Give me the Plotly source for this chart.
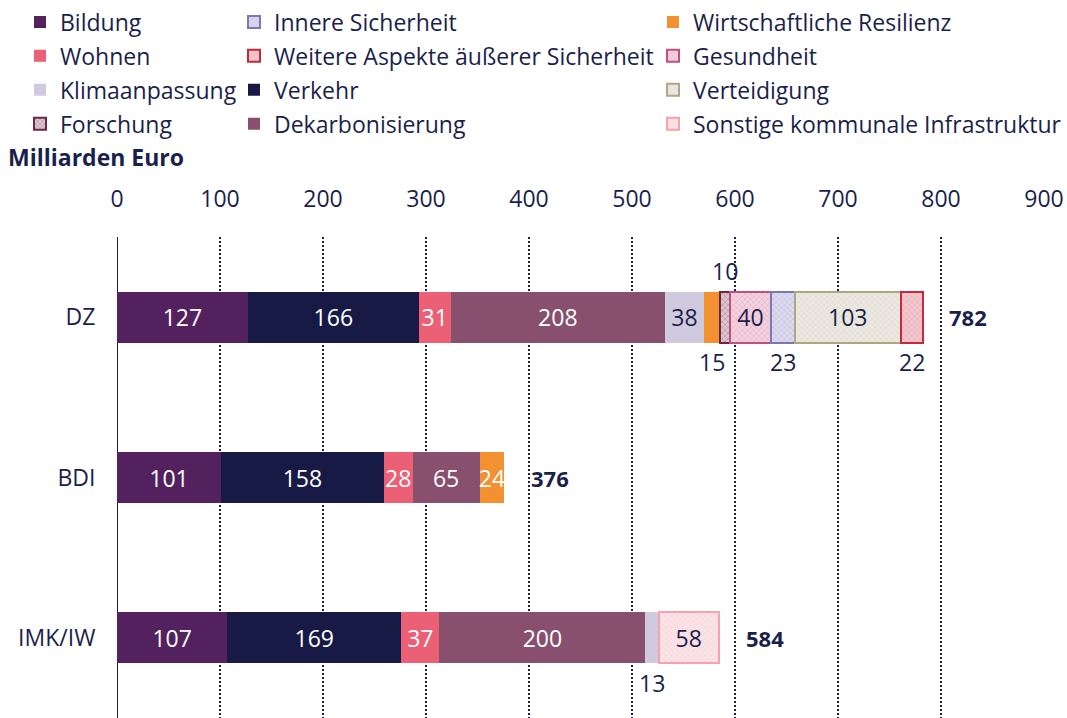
import plotly.graph_objects as go

categories = ["DZ", "BDI", "IMK/IW"]

series_names = [
    "Bildung", "Verkehr", "Wohnen", "Dekarbonisierung", "Klimaanpassung",
    "Wirtschaftliche Resilienz", "Forschung", "Gesundheit", "Innere Sicherheit",
    "Verteidigung", "Weitere Aspekte äußerer Sicherheit",
    "Sonstige kommunale Infrastruktur",
]

bildung = [127, 101, 107]
verkehr = [166, 158, 169]
wohnen = [31, 28, 37]
dekarbonisierung = [208, 65, 200]
klimaanpassung = [38, None, 13]
wirtschaft = [15, 24, None]
forschung = [10, None, None]
gesundheit = [40, None, None]
innere = [23, None, None]
verteidigung = [103, None, None]
weitere = [22, None, None]
sonstige = [None, None, 58]

totals = [782, 376, 584]
x_ticks = [0, 100, 200, 300, 400, 500, 600, 700, 800, 900]

values = [bildung, verkehr, wohnen, dekarbonisierung, klimaanpassung, wirtschaft,
          forschung, gesundheit, innere, verteidigung, weitere, sonstige]

# labels shown outside the bar: (series index, category index, position)
outside_labels = [
    (6, 0, "above"), (5, 0, "below"), (8, 0, "below"), (10, 0, "below"), (4, 2, "below"),
]

NAVY = "#1b1f4b"
FONT = "Open Sans"
FS = 23

styles = [
    dict(color="#52215e", text="white"),
    dict(color="#161a45", text="white"),
    dict(color="#ec6076", text="white"),
    dict(color="#88506e", text="white"),
    dict(color="#cfcadd", text=NAVY),
    dict(color="#f39130", text="white"),
    dict(color="#d9c6ce", line="#6b2744", fg="#8a5a70", text=NAVY),
    dict(color="#f3d3e0", line="#c0507c", fg="#d88aa8", text=NAVY),
    dict(color="#dcdaee", line="#7d78b0", fg="#a8a4cc", text=NAVY),
    dict(color="#ece9e2", line="#b3a583", fg="#cfc8b8", text=NAVY),
    dict(color="#f2c8cf", line="#c52a3a", fg="#dc8a96", text=NAVY),
    dict(color="#fbe4e8", line="#f5a3ad", fg="#f2c0c8", text=NAVY),
]

# legend columns: legend id and rank within column
legend_assign = {
    "Bildung": ("legend", 1), "Wohnen": ("legend", 2), "Klimaanpassung": ("legend", 3),
    "Forschung": ("legend", 4),
    "Innere Sicherheit": ("legend2", 1), "Weitere Aspekte äußerer Sicherheit": ("legend2", 2),
    "Verkehr": ("legend2", 3), "Dekarbonisierung": ("legend2", 4),
    "Wirtschaftliche Resilienz": ("legend3", 1), "Gesundheit": ("legend3", 2),
    "Verteidigung": ("legend3", 3), "Sonstige kommunale Infrastruktur": ("legend3", 4),
}

outside_set = {(s, c) for s, c, _ in outside_labels}

fig = go.Figure()
for i, (name, vals) in enumerate(zip(series_names, values)):
    st = styles[i]
    texts = []
    for c, v in enumerate(vals):
        if v is None or (i, c) in outside_set:
            texts.append("")
        else:
            texts.append(str(v))
    marker = dict(color=st["color"])
    if "line" in st:
        marker["line"] = dict(color=st["line"], width=2)
        marker["pattern"] = dict(shape="x", fgcolor=st["fg"], bgcolor=st["color"],
                                 size=4, solidity=0.15, fillmode="replace")
    else:
        marker["line"] = dict(width=0)
    lg, rank = legend_assign[name]
    fig.add_trace(go.Bar(
        name=name, y=categories, x=vals, orientation="h",
        marker=marker, text=texts, textposition="inside",
        insidetextanchor="middle", textangle=0,
        insidetextfont=dict(color=st["text"], family=FONT, size=FS),
        width=0.32, legend=lg, legendrank=rank, legendgroup=name,
        hoverinfo="skip",
    ))

W, H = 1067, 718
ml, mt = 117, 237
mr = W - 1044
mb = 0
pw, ph = W - ml - mr, H - mt - mb

def px_x(px):
    return (px - ml) / pw

def px_y(py):
    return 1 + (mt - py) / ph

annotations = []
for s, c, pos in outside_labels:
    start = sum((values[k][c] or 0) for k in range(s))
    mid = start + values[s][c] / 2
    annotations.append(dict(
        x=mid, y=categories[c], xref="x", yref="y", text=str(values[s][c]),
        showarrow=False, font=dict(family=FONT, size=FS, color=NAVY),
        yshift=46 if pos == "above" else -45,
    ))
for c, t in enumerate(totals):
    annotations.append(dict(
        x=t, y=categories[c], xref="x", yref="y", text=f"<b>{t}</b>",
        showarrow=False, xanchor="left", xshift=25,
        font=dict(family=FONT, size=22, color=NAVY),
    ))
annotations.append(dict(
    x=px_x(6), y=px_y(157), xref="paper", yref="paper", text="<b>Milliarden Euro</b>",
    showarrow=False, xanchor="left", yanchor="middle",
    font=dict(family=FONT, size=23, color=NAVY),
))

legend_common = dict(
    orientation="v", traceorder="grouped", tracegroupgap=1,
    font=dict(family=FONT, size=FS, color=NAVY),
    bgcolor="rgba(0,0,0,0)", borderwidth=0,
    xanchor="left", yanchor="top", itemclick=False,
)

LEG_TOP = 0.5
fig.update_layout(
    width=W, height=H,
    margin=dict(l=ml, r=mr, t=mt, b=mb, pad=0, autoexpand=False),
    barmode="stack",
    paper_bgcolor="white", plot_bgcolor="white",
    font=dict(family=FONT, size=FS, color=NAVY),
    showlegend=True,
    legend=dict(**legend_common, x=px_x(20), y=px_y(LEG_TOP)),
    legend2=dict(**legend_common, x=px_x(234), y=px_y(LEG_TOP)),
    legend3=dict(**legend_common, x=px_x(653), y=px_y(LEG_TOP)),
    xaxis=dict(
        side="top", range=[0, 900], tickvals=x_ticks,
        showgrid=True, gridcolor=NAVY, griddash="2px,2px", gridwidth=1.5,
        zeroline=True, zerolinecolor=NAVY, zerolinewidth=1,
        ticks="outside", ticklen=20, tickcolor="rgba(0,0,0,0)",
        tickfont=dict(family=FONT, size=FS, color=NAVY),
        showline=False, fixedrange=True,
    ),
    yaxis=dict(
        categoryorder="array", categoryarray=categories,
        autorange="reversed", range=[2.5, -0.5],
        tickfont=dict(family=FONT, size=FS, color=NAVY),
        ticks="outside", ticklen=16, tickcolor="rgba(0,0,0,0)",
        showgrid=False, zeroline=False, showline=False, fixedrange=True,
    ),
    uniformtext=dict(minsize=FS, mode="show"),
    annotations=annotations,
)

fig.write_html("out.html", config={"displayModeBar": False},
               post_script="document.body.style.margin='0';")
